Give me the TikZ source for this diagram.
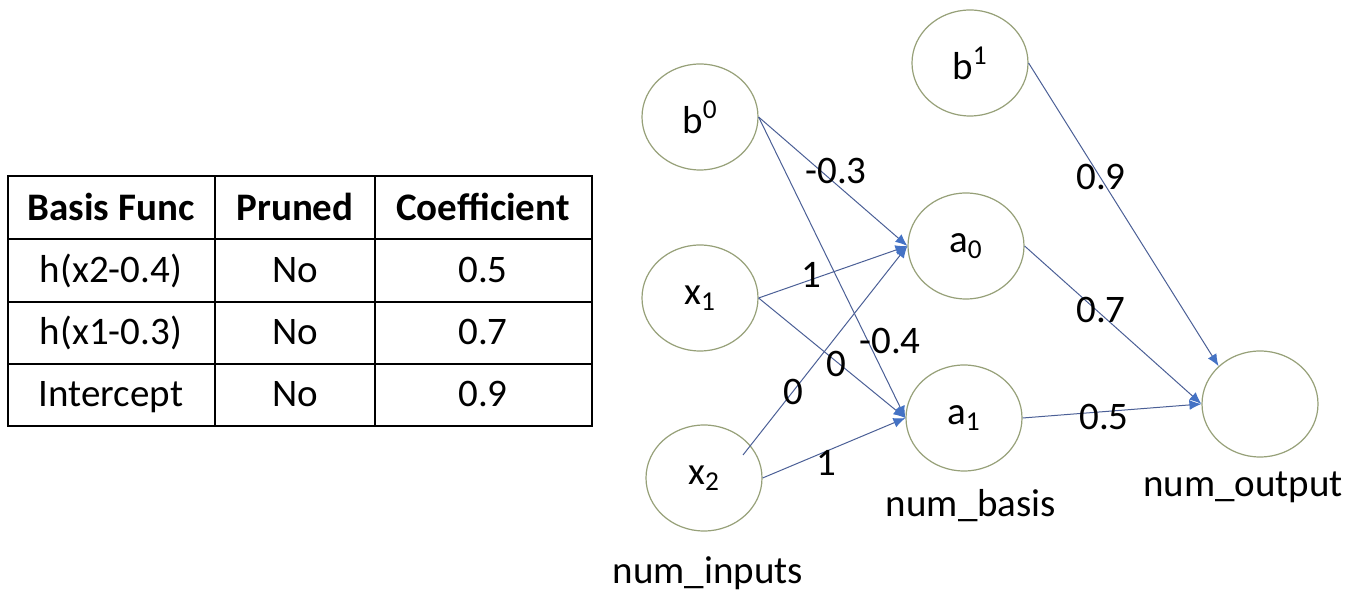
\documentclass[tikz,border=0pt]{standalone}
\usepackage{fontspec}
\setmainfont{Carlito}
\usetikzlibrary{arrows.meta,shapes.geometric}
\definecolor{nnring}{RGB}{150,160,120}
\definecolor{nnwire}{RGB}{75,95,150}
\definecolor{nntip}{RGB}{68,114,196}

\begin{document}
\begin{tikzpicture}[x=0.5pt,y=-0.5pt,font=\fontsize{19.5}{23}\selectfont,
  unit/.style={ellipse,draw=nnring,line width=.6pt,minimum width=58pt,minimum height=53pt,inner sep=0pt},
  wire/.style={draw=nnwire,line width=.5pt,-{Latex[length=6pt,width=5pt,color=nntip]}},
  cell/.style={anchor=base,inner sep=0pt},
  rule/.style={line width=1pt}]
\path[use as bounding box] (0,0) rectangle (1350,608);
% table
\draw[rule] (8,176) rectangle (592,426);
\foreach \x in {215,375} {
  \draw[rule] (\x,176)--(\x,426);
}
\foreach \y in {239,302,364} {
  \draw[rule] (8,\y)--(592,\y);
}
\node[cell] (hd-fn) at (111,221) {\bfseries Basis Func};
\node[cell] (hd-pr) at (295,221) {\bfseries Pruned};
\node[cell] (hd-cf) at (483,221) {\bfseries Coefficient};
\foreach \fn/\pr/\cf [count=\r] in {h(x2-0.4)/No/0.5,h(x1-0.3)/No/0.7,Intercept/No/0.9} {
  \node[cell] (fn-\r) at (111,{221+62*\r}) {\fn};
  \node[cell] (pr-\r) at (295,{221+62*\r}) {\pr};
  \node[cell] (cf-\r) at (483,{221+62*\r}) {\cf};
}
% network
\node[unit] (b0) at (700,117) {b\textsuperscript{0}};
\node[unit] (x1) at (700,298) {x\textsubscript{1}};
\node[unit] (x2) at (704,478) {x\textsubscript{2}};
\node[unit] (b1) at (970,63) {b\textsuperscript{1}};
\node[unit] (a0) at (966,246) {a\textsubscript{0}};
\node[unit] (a1) at (964,418) {a\textsubscript{1}};
\node[unit] (out) at (1260,404) {};
\coordinate (x2in) at (743,455);
\node (inputs) at (708,573) {num\_inputs};
\node (basis) at (971,506) {num\_basis};
\node (output) at (1243,487) {num\_output};
\draw[wire] (b0.east)--(a0.west);
\draw[wire] (b0.east)--(a1.west);
\draw[wire] (x1.east)--(a0.west);
\draw[wire] (x1.east)--(a1.west);
\draw[wire] (x2in)--(a0.west);
\draw[wire] (x2.east)--(a1.west);
\draw[wire] (a0.east)--(out.west);
\draw[wire] (a1.east)--(out.west);
\draw[wire] (b1.east)--(out.north west);
\node (w-b0a0) at (836,171) {-0.3};
\node (w-x1a0) at (811,275) {1};
\node (w-b0a1) at (890,341) {-0.4};
\node (w-x1a1) at (836,364) {0};
\node (w-x2a0) at (793,392) {0};
\node (w-x2a1) at (826,463) {1};
\node (w-b1) at (1101,177) {0.9};
\node (w-a0) at (1101,310) {0.7};
\node (w-a1) at (1104,417) {0.5};
\end{tikzpicture}
\end{document}
